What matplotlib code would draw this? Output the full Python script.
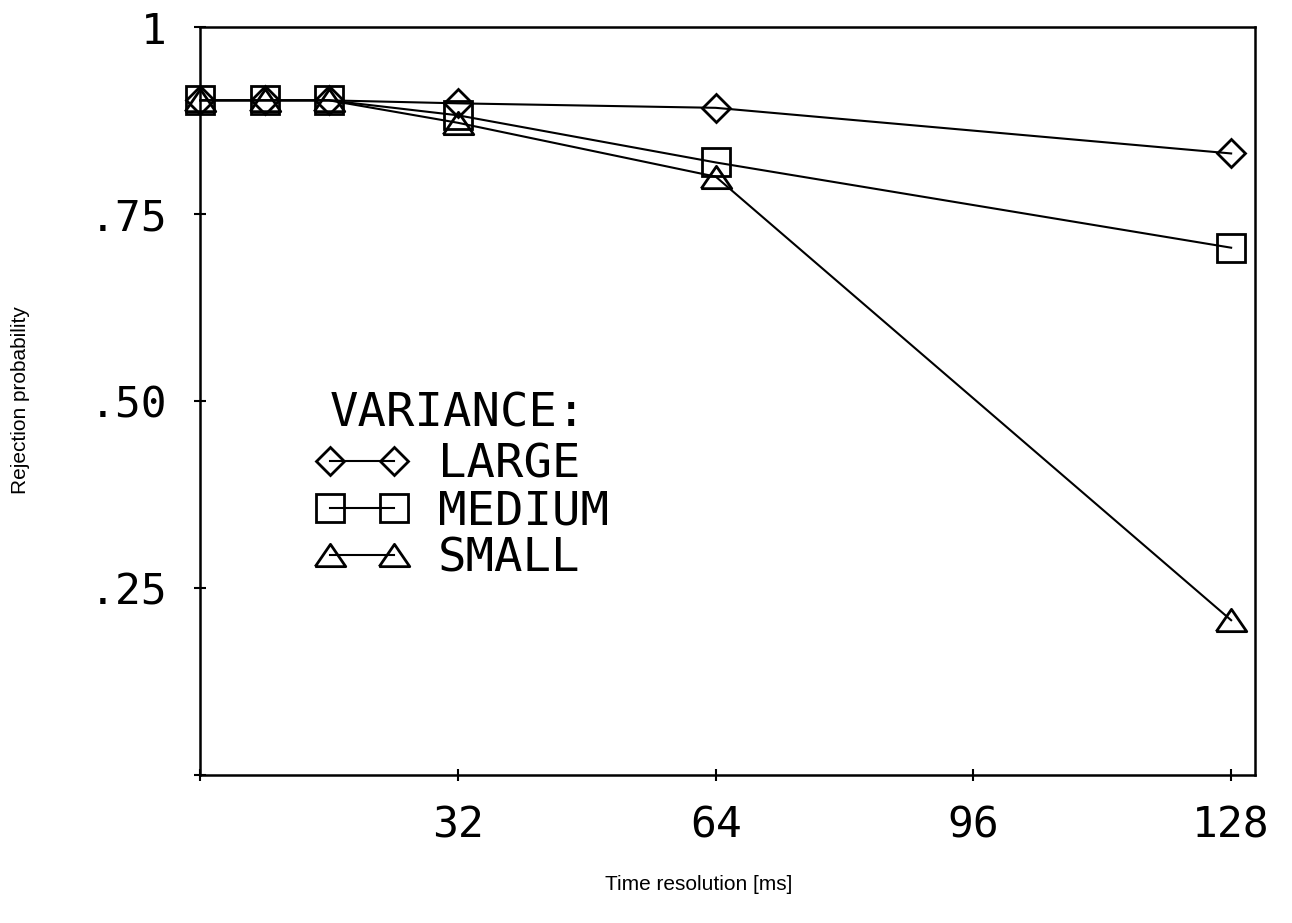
import matplotlib
matplotlib.use("Agg")
import matplotlib.pyplot as plt

# time resolution in ms
time_ms = [0, 8, 16, 32, 64, 128]
large = [0.902, 0.902, 0.902, 0.898, 0.892, 0.831]
medium = [0.902, 0.902, 0.902, 0.882, 0.819, 0.705]
small = [0.902, 0.902, 0.902, 0.872, 0.800, 0.207]
series_labels = ["LARGE", "MEDIUM", "SMALL"]

x_ticks = [0, 32, 64, 96, 128]
x_ticklabels = ["", "32", "64", "96", "128"]
y_ticks = [0, 0.25, 0.50, 0.75, 1.0]
y_ticklabels = ["", ".25", ".50", ".75", "1"]

MONO = "DejaVu Sans Mono"

# flat plotter-style triangle
tri = [(-1, -0.73), (1, -0.73), (0, 0.73), (-1, -0.73)]

fig = plt.figure(figsize=(12.92, 9.23), dpi=100)
ax = fig.add_axes([0.155, 0.1603, 0.8166, 0.8104])

styles = [("D", 14.5), ("s", 20), (tri, 22)]
for ys, lab, (mk, ms) in zip([large, medium, small], series_labels, styles):
    ax.plot(time_ms, ys, color="black", lw=1.5, marker=mk, markersize=ms,
            markerfacecolor="none", markeredgecolor="black", markeredgewidth=2,
            label=lab, clip_on=False, zorder=3)

ax.set_xlim(0, 131)
ax.set_ylim(0, 1)
ax.set_xticks(x_ticks)
ax.set_xticklabels(x_ticklabels, fontfamily=MONO, fontsize=31)
ax.set_yticks(y_ticks)
ax.set_yticklabels(y_ticklabels, fontfamily=MONO, fontsize=31)
ax.tick_params(axis="x", direction="inout", length=8, width=1.5, pad=17)
ax.tick_params(axis="y", direction="inout", length=8, width=1.5, pad=20)
for sp in ax.spines.values():
    sp.set_linewidth(1.8)

ax.set_xlabel("Time resolution [ms]", fontfamily="Liberation Sans", fontsize=15)
ax.xaxis.set_label_coords(0.472, -0.134)
ax.set_ylabel("Rejection probability", fontfamily="Liberation Sans", fontsize=15)
ax.yaxis.set_label_coords(-0.161, 0.501)

# legend title drawn separately so it can sit a bit right of the handles
ax.text(0.123, 0.466, "VARIANCE:", transform=ax.transAxes, fontfamily=MONO,
        fontsize=34, va="baseline", ha="left")
leg = ax.legend(loc="upper left", bbox_to_anchor=(0.110, 0.445),
                frameon=False, numpoints=2, handlelength=1.94, handletextpad=0.64,
                labelspacing=0.05, borderpad=0, borderaxespad=0,
                prop={"family": MONO, "size": 34})

fig.savefig("out.png", dpi=100)
